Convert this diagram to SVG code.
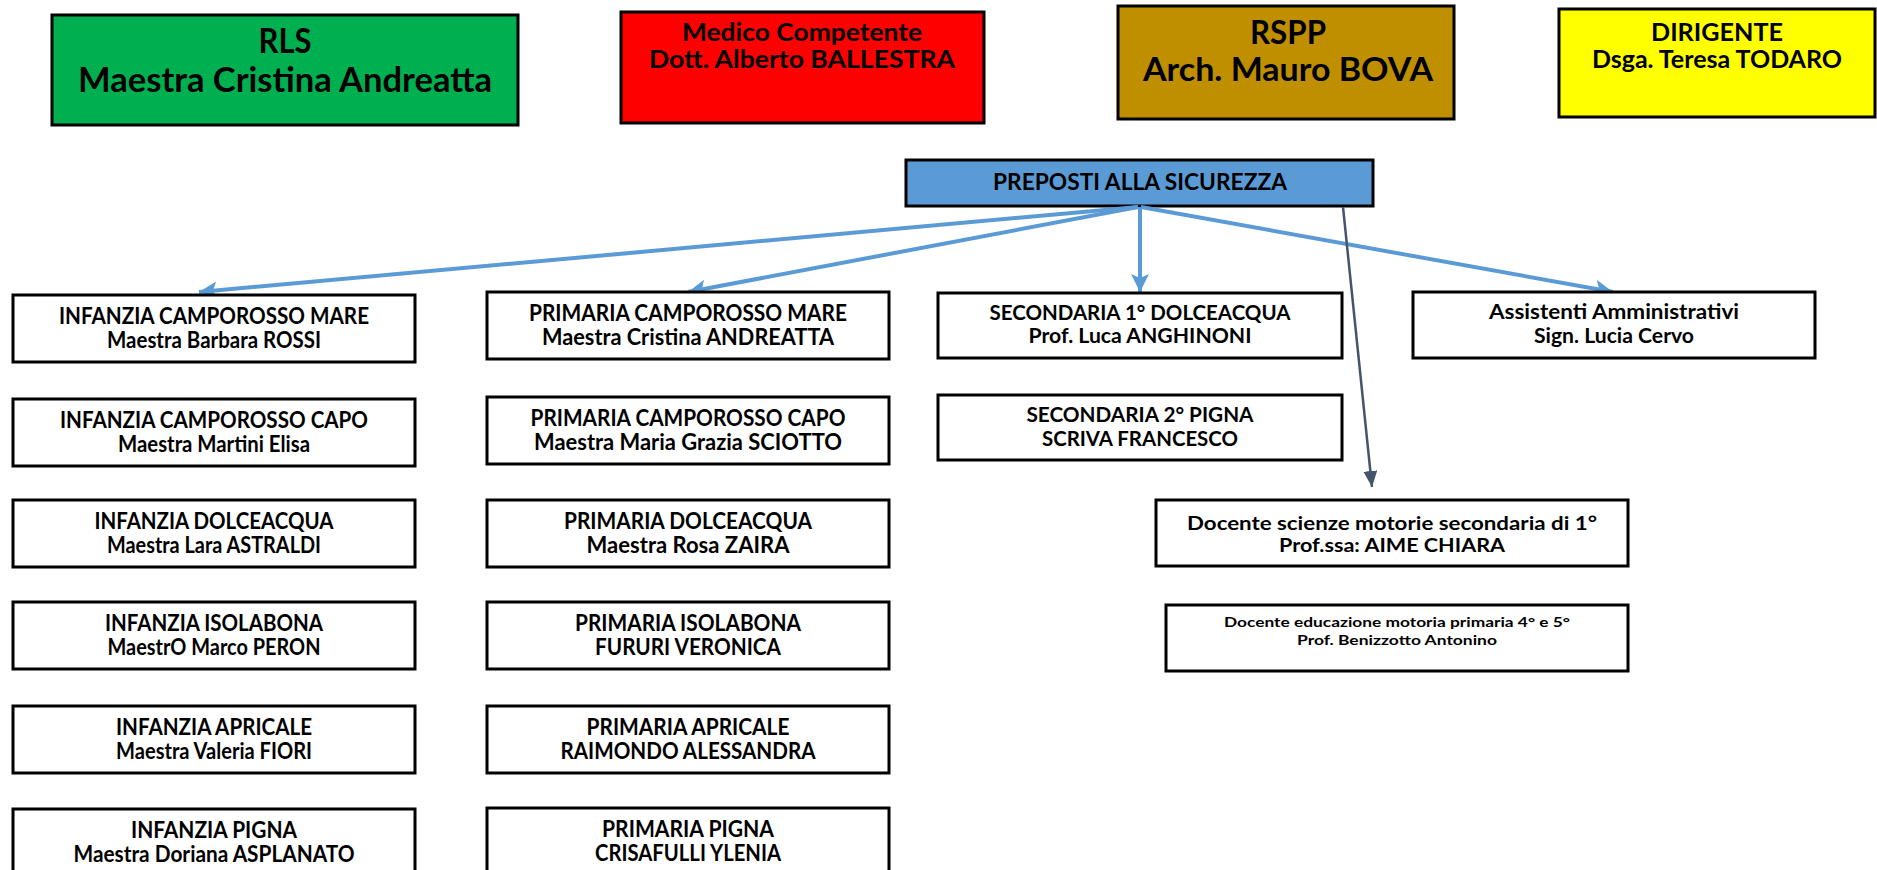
<svg xmlns="http://www.w3.org/2000/svg" width="1877" height="870" viewBox="0 0 1877 870">
<style>
text{font-family:Lato,"Open Sans","Liberation Sans",sans-serif;font-weight:bold;fill:#000;text-anchor:middle}
.box{fill:#fff;stroke:#000;stroke-width:3}
.top{stroke:#000;stroke-width:3}
.t22{font-size:22px}
.t20{font-size:21px}
.t19{font-size:19px}
.t14{font-size:14px}
.blue{stroke:#5B9BD5;stroke-width:4;fill:none}
.dark{stroke:#44546A;stroke-width:2.5;fill:none}
</style>
<defs>
<marker id="ab" markerUnits="userSpaceOnUse" markerWidth="20" markerHeight="18" viewBox="0 0 20 18" refX="18" refY="9" orient="auto"><path d="M0,0 L18,9 L0,18 L4,9 Z" fill="#5B9BD5"/></marker>
<marker id="ad" markerUnits="userSpaceOnUse" markerWidth="18" markerHeight="14" viewBox="0 0 18 14" refX="16" refY="7" orient="auto"><path d="M0,0 L16,7 L0,14 Z" fill="#44546A"/></marker>
</defs>
<rect width="1877" height="870" fill="#fff"/>

<g id="rls"><rect class="top" x="52" y="15" width="466" height="110" fill="#00B050"/>
<text x="285" y="53" font-size="34" textLength="53" lengthAdjust="spacingAndGlyphs">RLS</text>
<text x="285" y="92" font-size="34" textLength="414" lengthAdjust="spacingAndGlyphs">Maestra Cristina Andreatta</text></g>
<g id="medico"><rect class="top" x="621" y="12" width="363" height="111" fill="#FF0000"/>
<text x="802" y="41" font-size="24" textLength="240" lengthAdjust="spacingAndGlyphs">Medico Competente</text>
<text x="802" y="68" font-size="24" textLength="306" lengthAdjust="spacingAndGlyphs">Dott. Alberto BALLESTRA</text></g>
<g id="rspp"><rect class="top" x="1118" y="6" width="336" height="113" fill="#BF8F00"/>
<text x="1288" y="44" font-size="32" textLength="76" lengthAdjust="spacingAndGlyphs">RSPP</text>
<text x="1288" y="81" font-size="32" textLength="290" lengthAdjust="spacingAndGlyphs">Arch. Mauro BOVA</text></g>
<g id="dirigente"><rect class="top" x="1559" y="9" width="316" height="108" fill="#FFFF00"/>
<text x="1717" y="41" font-size="24" textLength="132" lengthAdjust="spacingAndGlyphs">DIRIGENTE</text>
<text x="1717" y="68" font-size="24" textLength="250" lengthAdjust="spacingAndGlyphs">Dsga. Teresa TODARO</text></g>

<g id="preposti"><rect class="top" x="906" y="160" width="467" height="46" fill="#5B9BD5"/>
<text x="1140" y="190" font-size="22" textLength="294" lengthAdjust="spacingAndGlyphs">PREPOSTI ALLA SICUREZZA</text></g>

<g id="connectors">
<line class="blue" x1="1138" y1="207" x2="199" y2="292" marker-end="url(#ab)"/>
<line class="blue" x1="1138" y1="207" x2="688" y2="292" marker-end="url(#ab)"/>
<line class="blue" x1="1140" y1="207" x2="1140" y2="292" marker-end="url(#ab)"/>
<line class="blue" x1="1141" y1="207" x2="1613" y2="292" marker-end="url(#ab)"/>
<line class="dark" x1="1343" y1="207" x2="1372" y2="487" marker-end="url(#ad)"/>
</g>

<g id="inf1"><rect class="box" x="13" y="295" width="402" height="67"/>
<text class="t22" x="214" y="324" textLength="310" lengthAdjust="spacingAndGlyphs">INFANZIA CAMPOROSSO MARE</text>
<text class="t22" x="214" y="348" textLength="214" lengthAdjust="spacingAndGlyphs">Maestra Barbara ROSSI</text></g>
<g id="inf2"><rect class="box" x="13" y="399" width="402" height="67"/>
<text class="t22" x="214" y="428" textLength="308" lengthAdjust="spacingAndGlyphs">INFANZIA CAMPOROSSO CAPO</text>
<text class="t22" x="214" y="452" textLength="192" lengthAdjust="spacingAndGlyphs">Maestra Martini Elisa</text></g>
<g id="inf3"><rect class="box" x="13" y="500" width="402" height="67"/>
<text class="t22" x="214" y="529" textLength="239" lengthAdjust="spacingAndGlyphs">INFANZIA DOLCEACQUA</text>
<text class="t22" x="214" y="553" textLength="214" lengthAdjust="spacingAndGlyphs">Maestra Lara ASTRALDI</text></g>
<g id="inf4"><rect class="box" x="13" y="602" width="402" height="67"/>
<text class="t22" x="214" y="631" textLength="218" lengthAdjust="spacingAndGlyphs">INFANZIA ISOLABONA</text>
<text class="t22" x="214" y="655" textLength="213" lengthAdjust="spacingAndGlyphs">MaestrO Marco PERON</text></g>
<g id="inf5"><rect class="box" x="13" y="706" width="402" height="67"/>
<text class="t22" x="214" y="735" textLength="196" lengthAdjust="spacingAndGlyphs">INFANZIA APRICALE</text>
<text class="t22" x="214" y="759" textLength="196" lengthAdjust="spacingAndGlyphs">Maestra Valeria FIORI</text></g>
<g id="inf6"><rect class="box" x="13" y="809" width="402" height="67"/>
<text class="t22" x="214" y="838" textLength="166" lengthAdjust="spacingAndGlyphs">INFANZIA PIGNA</text>
<text class="t22" x="214" y="862" textLength="281" lengthAdjust="spacingAndGlyphs">Maestra Doriana ASPLANATO</text></g>

<g id="pri1"><rect class="box" x="487" y="292" width="402" height="67"/>
<text class="t22" x="688" y="321" textLength="318" lengthAdjust="spacingAndGlyphs">PRIMARIA CAMPOROSSO MARE</text>
<text class="t22" x="688" y="345" textLength="292" lengthAdjust="spacingAndGlyphs">Maestra Cristina ANDREATTA</text></g>
<g id="pri2"><rect class="box" x="487" y="397" width="402" height="67"/>
<text class="t22" x="688" y="426" textLength="315" lengthAdjust="spacingAndGlyphs">PRIMARIA CAMPOROSSO CAPO</text>
<text class="t22" x="688" y="450" textLength="308" lengthAdjust="spacingAndGlyphs">Maestra Maria Grazia SCIOTTO</text></g>
<g id="pri3"><rect class="box" x="487" y="500" width="402" height="67"/>
<text class="t22" x="688" y="529" textLength="248" lengthAdjust="spacingAndGlyphs">PRIMARIA DOLCEACQUA</text>
<text class="t22" x="688" y="553" textLength="203" lengthAdjust="spacingAndGlyphs">Maestra Rosa ZAIRA</text></g>
<g id="pri4"><rect class="box" x="487" y="602" width="402" height="67"/>
<text class="t22" x="688" y="631" textLength="226" lengthAdjust="spacingAndGlyphs">PRIMARIA ISOLABONA</text>
<text class="t22" x="688" y="655" textLength="186" lengthAdjust="spacingAndGlyphs">FURURI VERONICA</text></g>
<g id="pri5"><rect class="box" x="487" y="706" width="402" height="67"/>
<text class="t22" x="688" y="735" textLength="203" lengthAdjust="spacingAndGlyphs">PRIMARIA APRICALE</text>
<text class="t22" x="688" y="759" textLength="255" lengthAdjust="spacingAndGlyphs">RAIMONDO ALESSANDRA</text></g>
<g id="pri6"><rect class="box" x="487" y="808" width="402" height="67"/>
<text class="t22" x="688" y="837" textLength="172" lengthAdjust="spacingAndGlyphs">PRIMARIA PIGNA</text>
<text class="t22" x="688" y="861" textLength="186" lengthAdjust="spacingAndGlyphs">CRISAFULLI YLENIA</text></g>

<g id="sec1"><rect class="box" x="938" y="293" width="404" height="65"/>
<text class="t20" x="1140" y="320" textLength="301" lengthAdjust="spacingAndGlyphs">SECONDARIA 1° DOLCEACQUA</text>
<text class="t20" x="1140" y="343" textLength="223" lengthAdjust="spacingAndGlyphs">Prof. Luca ANGHINONI</text></g>
<g id="sec2"><rect class="box" x="938" y="395" width="404" height="65"/>
<text class="t20" x="1140" y="422" textLength="227" lengthAdjust="spacingAndGlyphs">SECONDARIA 2° PIGNA</text>
<text class="t20" x="1140" y="446" textLength="196" lengthAdjust="spacingAndGlyphs">SCRIVA FRANCESCO</text></g>

<g id="assistenti"><rect class="box" x="1413" y="292" width="402" height="66"/>
<text class="t20" x="1614" y="319" textLength="250" lengthAdjust="spacingAndGlyphs">Assistenti Amministrativi</text>
<text class="t20" x="1614" y="343" textLength="160" lengthAdjust="spacingAndGlyphs">Sign. Lucia Cervo</text></g>

<g id="docente1"><rect class="box" x="1156" y="500" width="472" height="66"/>
<text class="t19" x="1392" y="530" textLength="410" lengthAdjust="spacingAndGlyphs">Docente scienze motorie secondaria di 1°</text>
<text class="t19" x="1392" y="552" textLength="226" lengthAdjust="spacingAndGlyphs">Prof.ssa: AIME CHIARA</text></g>
<g id="docente2"><rect class="box" x="1166" y="605" width="462" height="66"/>
<text class="t14" x="1397" y="627" textLength="346" lengthAdjust="spacingAndGlyphs">Docente educazione motoria primaria 4° e 5°</text>
<text class="t14" x="1397" y="645" textLength="200" lengthAdjust="spacingAndGlyphs">Prof. Benizzotto Antonino</text></g>
</svg>
